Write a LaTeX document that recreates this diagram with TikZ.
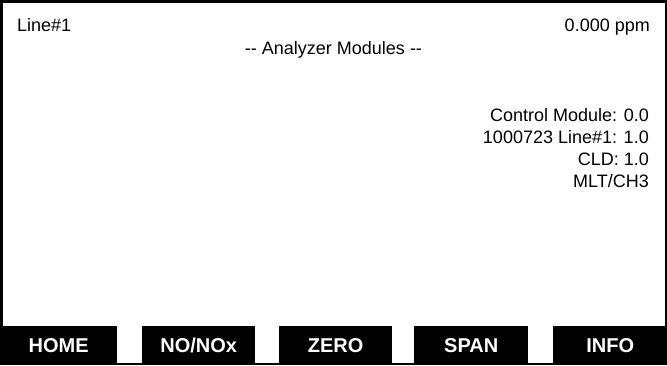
\documentclass[tikz,border=0pt]{standalone}
\usepackage{fontspec}
\setmainfont{Liberation Sans}
\tikzset{
	screentext/.style={inner sep=0pt,font=\fontsize{18}{18}\selectfont},
	softkey/.style={fill=black,text=white,inner sep=0pt,minimum height=39pt,
		anchor=north west,text height=14.5pt,text depth=0pt,
		font=\fontsize{20}{20}\selectfont\bfseries}
}
\begin{document}
\begin{tikzpicture}[x=1pt,y=-1pt]
	\useasboundingbox (0,0) rectangle (667,365);
	\draw[line width=2.5pt][black](1.25,1.25)--(665.75,1.25)--(665.75,363.75)--(1.25,363.75)--cycle ;
	
	\node[screentext,anchor=base west] (line) at (17,31) {Line\#1};
	\node[screentext,anchor=base east] (conc) at (650,31) {0.000 ppm};
	\node[screentext,anchor=base] (title) at (333.5,54) {-{}- Analyzer Modules -{}-};
	
	\node[screentext,anchor=base east] (ctrl) at (649,121) {Control Module: 0.0};
	\node[screentext,anchor=base east] (mod) at (649,143.5) {1000723 Line\#1: 1.0};
	\node[screentext,anchor=base east] (cld) at (649,165.5) {CLD: 1.0};
	\node[screentext,anchor=base east] (mlt) at (649,187.5) {MLT/CH3};
	
	\node[softkey,minimum width=117pt] (home) at (0,326) {HOME};
	\node[softkey,minimum width=113pt] (nox) at (142,326) {NO/NOx};
	\node[softkey,minimum width=113pt] (zero) at (279,326) {ZERO};
	\node[softkey,minimum width=114pt] (span) at (414,326) {SPAN};
	\node[softkey,minimum width=114pt] (info) at (553,326) {INFO};
	
\end{tikzpicture}
\end{document}
